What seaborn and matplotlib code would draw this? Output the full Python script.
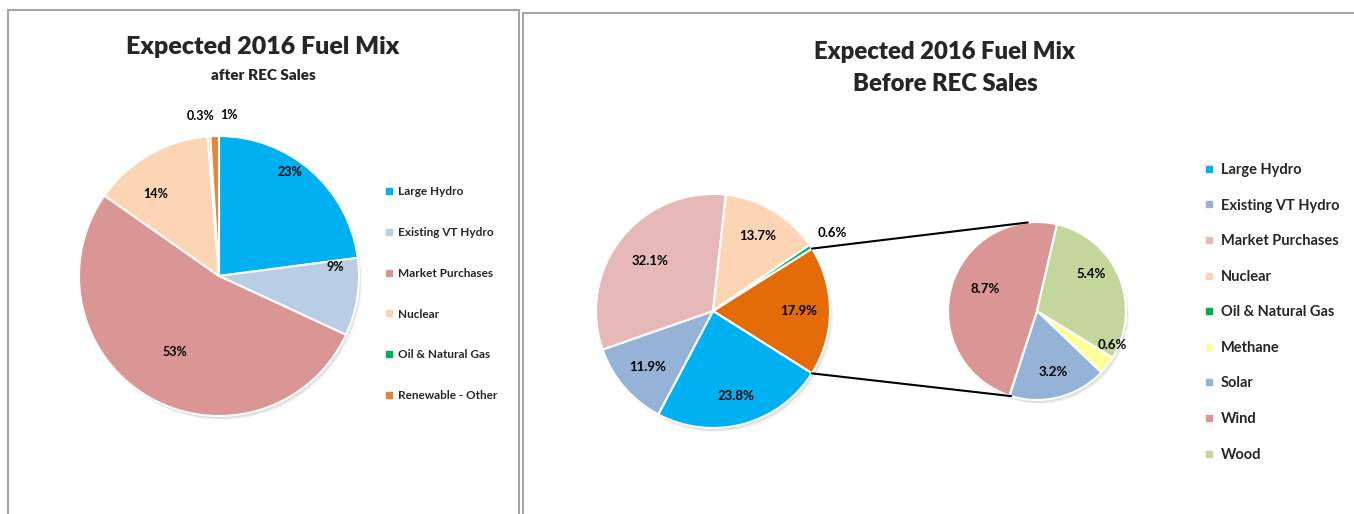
import numpy as np
import matplotlib.pyplot as plt
import seaborn as sns
from matplotlib.patches import Rectangle, Circle
from matplotlib.lines import Line2D

# left chart: after REC sales
after_labels = ['Large Hydro', 'Existing VT Hydro', 'Market Purchases', 'Nuclear',
                'Oil & Natural Gas', 'Renewable - Other']
after_values = [23, 9, 53, 14, 0.3, 1]
after_colors = ['#00B0F0', '#B9CDE5', '#D99694', '#FCD5B5', '#00B050', '#E4873A']

# right chart: before REC sales (main pie)
before_labels = ['Large Hydro', 'Existing VT Hydro', 'Market Purchases', 'Nuclear',
                 'Oil & Natural Gas']
before_values = [23.8, 11.9, 32.1, 13.7, 0.6]
before_colors = ['#00B0F0', '#95B3D7', '#E6B9B8', '#FCD5B5', '#00B050']
other_color = '#E36C09'

# breakdown of the renewable "other" slice (secondary pie)
other_labels = ['Methane', 'Solar', 'Wind', 'Wood']
other_values = [0.6, 3.2, 8.7, 5.4]
other_colors = ['#FFFF99', '#95B3D7', '#D99694', '#C3D69B']

sns.set_theme(style='white')
plt.rcParams['font.family'] = ['Lato', 'DejaVu Sans']

W, H = 1354, 514
fig = plt.figure(figsize=(W / 100, H / 100), dpi=100)
ax = fig.add_axes([0, 0, 1, 1])


def draw_pie(values, colors, cx, cy, r, start, texts, dists, shifts, fs):
    cy = H - cy
    for k, a in enumerate([0.06, 0.05, 0.04]):
        ax.add_patch(Circle((cx + 1 + k, cy - 2 - k), r, color='black', alpha=a, lw=0, zorder=0))
    wedges, _ = ax.pie(values, colors=colors, startangle=start, counterclock=False,
                       center=(cx, cy), radius=r, frame=True,
                       wedgeprops=dict(edgecolor='white', linewidth=1.5))
    for w, t, d, s in zip(wedges, texts, dists, shifts):
        ang = np.deg2rad((w.theta1 + w.theta2) / 2 + s)
        ax.text(cx + d * r * np.cos(ang), cy + d * r * np.sin(ang), t,
                ha='center', va='center', fontsize=fs, weight='bold', color='black')
    return wedges


# ---- left panel ----
draw_pie(after_values, after_colors, 219, 276, 140, 90,
         [f'{v:g}%' for v in after_values],
         [0.9, 0.83, 0.63, 0.74, 1.15, 1.15],
         [7, 13, 0, 8, 2.3, -5.2], 9)

# ---- right panel: pie of pie ----
other_total = sum(other_values)
main_values = [other_total] + before_values
main_colors = [other_color] + before_colors
main_w = draw_pie(main_values, main_colors, 713, 311, 117, other_total / sum(main_values) * 180,
                  [f'{v:.1f}%' for v in main_values],
                  [0.73, 0.75, 0.74, 0.69, 0.75, 1.22],
                  [0, 0, 0, 0, 0, 0], 9.5)
draw_pie(other_values, other_colors, 1037, 311, 89, -31.6,
         [f'{v:.1f}%' for v in other_values],
         [0.93, 0.71, 0.63, 0.74],
         [13.6, 0.8, -7.4, 11.4], 9.5)

# connector lines from the "other" slice to the secondary pie
for th_main, th_sec in [(main_w[0].theta2, 96), (main_w[0].theta1, -107)]:
    a1, a2 = np.deg2rad(th_main), np.deg2rad(th_sec)
    ax.plot([713 + 117 * np.cos(a1), 1037 + 89 * np.cos(a2)],
            [H - 311 + 117 * np.sin(a1), H - 311 + 89 * np.sin(a2)],
            color='black', lw=1.5, zorder=1)

# panel borders
ax.add_patch(Rectangle((8, -10), 511, 514, fill=False, edgecolor='#A5A5A5', lw=1.5, clip_on=False))
ax.add_patch(Rectangle((523, -10), 900, 511, fill=False, edgecolor='#A5A5A5', lw=1.5, clip_on=False))

ax.set_xlim(0, W)
ax.set_ylim(0, H)
ax.set_aspect('equal')
ax.axis('off')

# titles
fig.text(263 / W, 1 - 47 / H, 'Expected 2016 Fuel Mix', ha='center', va='center',
         fontsize=18, weight='heavy')
fig.text(263 / W, 1 - 75 / H, 'after REC Sales', ha='center', va='center',
         fontsize=11, weight='heavy')
fig.text(945 / W, 1 - 52 / H, 'Expected 2016 Fuel Mix', ha='center', va='center',
         fontsize=17.2, weight='heavy')
fig.text(945 / W, 1 - 84 / H, 'Before REC Sales', ha='center', va='center',
         fontsize=17.2, weight='heavy')

# legends
def square_handles(colors):
    return [Line2D([], [], marker='s', ls='', color=c, markersize=5) for c in colors]

fig.legend(square_handles(after_colors), after_labels, loc='upper left',
           bbox_to_anchor=(385 / W, 1 - 186 / H), frameon=False,
           prop={'weight': 'bold', 'size': 8.5}, labelspacing=2.53,
           handlelength=0.6, handletextpad=0.5, borderpad=0, borderaxespad=0)
fig.legend(square_handles(before_colors + other_colors), before_labels + other_labels,
           loc='upper left', bbox_to_anchor=(1205 / W, 1 - 163 / H), frameon=False,
           prop={'weight': 'bold', 'size': 10.5}, labelspacing=1.48,
           handlelength=0.6, handletextpad=0.5, borderpad=0, borderaxespad=0)

fig.savefig('out.png', dpi=100)
